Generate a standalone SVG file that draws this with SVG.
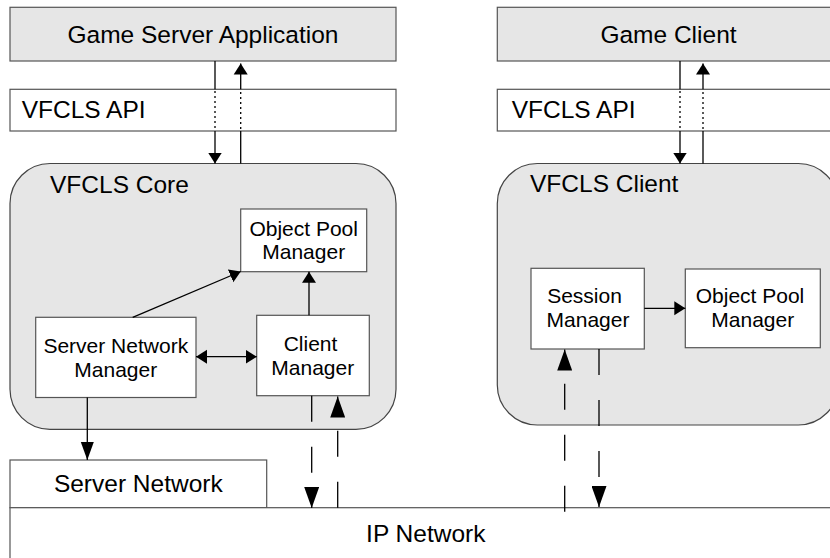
<svg xmlns="http://www.w3.org/2000/svg" width="830" height="558" viewBox="0 0 830 558">
  <style>
    .box { fill: #ffffff; stroke: #555555; stroke-width: 1.2; }
    .gray { fill: #e6e6e6; stroke: #555555; stroke-width: 1.2; }
    .pkg { fill: #e6e6e6; stroke: #444444; stroke-width: 1.2; }
    .big { font-family: "Liberation Sans", Arial, sans-serif; font-size: 24.5px; fill: #000000; }
    .small { font-family: "Liberation Sans", Arial, sans-serif; font-size: 21px; fill: #000000; }
    .mid { text-anchor: middle; }
    .line { stroke: #000000; stroke-width: 1.3; fill: none; }
    .dot { stroke-dasharray: 2 3; }
    .dash { stroke-dasharray: 26 25; }
  </style>
  <defs>
    <marker id="head-s" markerUnits="userSpaceOnUse" markerWidth="12" markerHeight="15" refX="11" refY="7" orient="auto" viewBox="0 0 12 14">
      <path d="M0,0 L11,7 L0,14 Z" fill="#000000"/>
    </marker>
    <marker id="head-s-start" markerUnits="userSpaceOnUse" markerWidth="12" markerHeight="15" refX="0" refY="7" orient="auto" viewBox="0 0 12 14">
      <path d="M11,0 L0,7 L11,14 Z" fill="#000000"/>
    </marker>
    <marker id="head-m" markerUnits="userSpaceOnUse" markerWidth="19" markerHeight="14" refX="18" refY="6.5" orient="auto" viewBox="0 0 19 13">
      <path d="M0,0 L18,6.5 L0,13 Z" fill="#000000"/>
    </marker>
    <marker id="head-l" markerUnits="userSpaceOnUse" markerWidth="22" markerHeight="15" refX="21" refY="7.5" orient="auto" viewBox="0 0 22 15">
      <path d="M0,0 L21,7.5 L0,15 Z" fill="#000000"/>
    </marker>
  </defs>

  <!-- applications -->
  <g id="game-server-app">
    <rect class="gray" x="10" y="7.3" width="386" height="53.7"/>
    <text class="big mid" x="203" y="43.3">Game Server Application</text>
  </g>
  <g id="game-client">
    <rect class="gray" x="497.3" y="7.3" width="345" height="53.7"/>
    <text class="big mid" x="668.5" y="43.3">Game Client</text>
  </g>

  <!-- API layers -->
  <g id="server-api">
    <rect class="box" x="10" y="89.3" width="386" height="41.7"/>
    <text class="big" x="21.7" y="118.3">VFCLS API</text>
  </g>
  <g id="client-api">
    <rect class="box" x="497.3" y="89.3" width="345" height="41.7"/>
    <text class="big" x="511.7" y="118.3">VFCLS API</text>
  </g>

  <!-- VFCLS core package -->
  <g id="vfcls-core">
    <rect class="pkg" x="10" y="163.5" width="386" height="265.8" rx="40" ry="40"/>
    <text class="big" x="50" y="193.3">VFCLS Core</text>
  </g>
  <g id="core-object-pool-manager">
    <rect class="box" x="240.7" y="209" width="126" height="62.7"/>
    <text class="small mid" x="303.7" y="236">Object Pool</text>
    <text class="small mid" x="303.7" y="259.3">Manager</text>
  </g>
  <g id="server-network-manager">
    <rect class="box" x="35.7" y="317.3" width="160.3" height="80.2"/>
    <text class="small mid" x="115.8" y="353.3">Server Network</text>
    <text class="small mid" x="115.8" y="376.7">Manager</text>
  </g>
  <g id="client-manager">
    <rect class="box" x="256.7" y="315.3" width="112.6" height="80.4"/>
    <text class="small mid" x="310.5" y="350.7">Client</text>
    <text class="small mid" x="312.8" y="375">Manager</text>
  </g>

  <!-- VFCLS client package -->
  <g id="vfcls-client">
    <rect class="pkg" x="497.3" y="163.5" width="341" height="261.5" rx="40" ry="40"/>
    <text class="big" x="530" y="192.3">VFCLS Client</text>
  </g>
  <g id="session-manager">
    <rect class="box" x="531" y="268.3" width="113.3" height="80.7"/>
    <text class="small mid" x="584.5" y="303.3">Session</text>
    <text class="small mid" x="588" y="326.7">Manager</text>
  </g>
  <g id="client-object-pool-manager">
    <rect class="box" x="685.3" y="269" width="135" height="78.7"/>
    <text class="small mid" x="750" y="303.3">Object Pool</text>
    <text class="small mid" x="752.8" y="326.7">Manager</text>
  </g>

  <!-- networks -->
  <g id="server-network">
    <rect class="box" x="10" y="460" width="256.7" height="47.7"/>
    <text class="big mid" x="138.3" y="491.7">Server Network</text>
  </g>
  <g id="ip-network">
    <rect class="box" x="10" y="507.7" width="840" height="70"/>
    <text class="big mid" x="425.8" y="541.7">IP Network</text>
  </g>

  <!-- connectors -->
  <g id="connectors">
    <!-- server application <-> core through the API -->
    <line class="line" x1="215" y1="61" x2="215" y2="89.3"/>
    <line class="line dot" x1="215" y1="91" x2="215" y2="131"/>
    <line class="line" x1="215" y1="131" x2="215" y2="163.5" marker-end="url(#head-s)"/>
    <line class="line" x1="240.7" y1="163.5" x2="240.7" y2="131"/>
    <line class="line dot" x1="240.7" y1="129" x2="240.7" y2="89.3"/>
    <line class="line" x1="240.7" y1="89.3" x2="240.7" y2="63.5" marker-end="url(#head-s)"/>

    <!-- game client <-> VFCLS client through the API -->
    <line class="line" x1="680" y1="61" x2="680" y2="89.3"/>
    <line class="line dot" x1="680" y1="91" x2="680" y2="131"/>
    <line class="line" x1="680" y1="131" x2="680" y2="163.5" marker-end="url(#head-s)"/>
    <line class="line" x1="703" y1="163.5" x2="703" y2="131"/>
    <line class="line dot" x1="703" y1="129" x2="703" y2="89.3"/>
    <line class="line" x1="703" y1="89.3" x2="703" y2="63.5" marker-end="url(#head-s)"/>

    <!-- inside the core -->
    <line class="line" x1="132.7" y1="317.3" x2="240.7" y2="271.5" marker-end="url(#head-s)"/>
    <line class="line" x1="309" y1="315.3" x2="309" y2="271.7" marker-end="url(#head-s)"/>
    <line class="line" x1="196" y1="356.7" x2="256.7" y2="356.7" marker-start="url(#head-s-start)" marker-end="url(#head-s)"/>
    <line class="line" x1="87.3" y1="397.5" x2="87.3" y2="460" marker-end="url(#head-m)"/>

    <!-- inside the VFCLS client -->
    <line class="line" x1="644.3" y1="308.3" x2="685.3" y2="308.3" marker-end="url(#head-s)"/>

    <!-- network traffic -->
    <line class="line dash" x1="311.7" y1="395.7" x2="311.7" y2="508" marker-end="url(#head-l)"/>
    <line class="line dash" x1="337.7" y1="507.7" x2="337.7" y2="396.5" marker-end="url(#head-l)"/>
    <line class="line dash" x1="564.7" y1="511.7" x2="564.7" y2="349.5" marker-end="url(#head-l)"/>
    <line class="line dash" x1="599" y1="349" x2="599" y2="507" marker-end="url(#head-l)"/>
  </g>
</svg>
